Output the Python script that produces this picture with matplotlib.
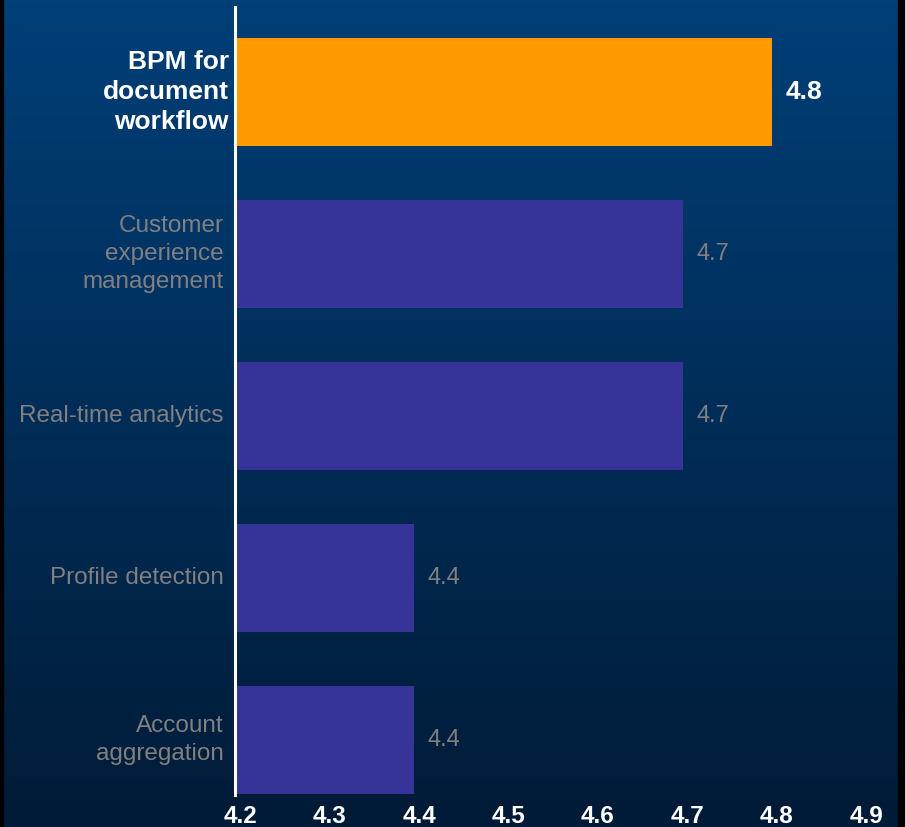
import matplotlib
matplotlib.use("Agg")
import matplotlib.pyplot as plt
import matplotlib.transforms as mtransforms
import numpy as np
from matplotlib.patches import Rectangle
from matplotlib.colors import LinearSegmentedColormap


categories = [
    "BPM for\ndocument\nworkflow",
    "Customer\nexperience\nmanagement",
    "Real-time analytics",
    "Profile detection",
    "Account\naggregation",
]
scores = [4.8, 4.7, 4.7, 4.4, 4.4]
highlight = [True, False, False, False, False]
x_ticks = [4.2, 4.3, 4.4, 4.5, 4.6, 4.7, 4.8, 4.9]

ORANGE = "#ff9900"
PURPLE = "#363399"
GRAY = "#808080"
FONT = ["Liberation Sans", "DejaVu Sans"]

W, H = 905, 827
fig = plt.figure(figsize=(W / 100, H / 100), dpi=100)

# background gradient, top lighter blue to dark navy at the bottom
bg = fig.add_axes([0, 0, 1, 1], zorder=-10)
grad = np.linspace(0, 1, 256).reshape(-1, 1)
cmap = LinearSegmentedColormap.from_list("bg", ["#003f78", "#001b37"])
bg.imshow(grad, aspect="auto", cmap=cmap, extent=[0, 1, 0, 1], origin="upper")
bg.axis("off")
fig.patches.append(Rectangle((0, 0), 3 / W, 1, transform=fig.transFigure, color="black"))
fig.patches.append(Rectangle((898 / W, 0), 7 / W, 1, transform=fig.transFigure, color="black"))

left, right, top, bottom = 235, 861.5, 7, 795
ax = fig.add_axes([left / W, 1 - bottom / H, (right - left) / W, (bottom - top) / H])
ax.patch.set_alpha(0)

ypos = np.arange(len(categories))
colors = [ORANGE if h else PURPLE for h in highlight]
ax.barh(ypos, [s - 4.2 for s in scores], left=4.2, height=0.667, color=colors, zorder=2)

ax.set_xlim(4.2, 4.9)
ax.set_ylim(4.34, -0.525)

for spine in ("top", "right", "bottom"):
    ax.spines[spine].set_visible(False)
ax.spines["left"].set_color("white")
ax.spines["left"].set_linewidth(2.2)
ax.spines["left"].set_zorder(3)

ax.set_xticks(x_ticks)
ax.set_xticklabels([f"{t:.1f}" for t in x_ticks])
ax.tick_params(axis="x", length=0, pad=7.5, colors="white", labelsize=17.5)
shift = mtransforms.ScaledTranslation(5 / 100, 0, fig.dpi_scale_trans)
for lbl in ax.get_xticklabels():
    lbl.set_fontweight("bold")
    lbl.set_family(FONT)
    lbl.set_transform(lbl.get_transform() + shift)

ax.set_yticks([])
for y, name, hl in zip(ypos, categories, highlight):
    ax.annotate(name, (0, y), xycoords=ax.get_yaxis_transform(),
                xytext=(-4.5 if hl else -8, 0), textcoords="offset points",
                ha="right", va="center", color="white" if hl else GRAY,
                fontsize=19 if hl else 17.5, fontweight="bold" if hl else "normal",
                family=FONT, linespacing=1.3 if hl else 1.38)

for y, s, hl in zip(ypos, scores, highlight):
    ax.annotate(f"{s:.1f}", (s, y), xytext=(10, 0), textcoords="offset points",
                ha="left", va="center", color="white" if hl else GRAY,
                fontsize=19 if hl else 17, fontweight="bold" if hl else "normal", family=FONT)

fig.savefig("out.png", dpi=100)
